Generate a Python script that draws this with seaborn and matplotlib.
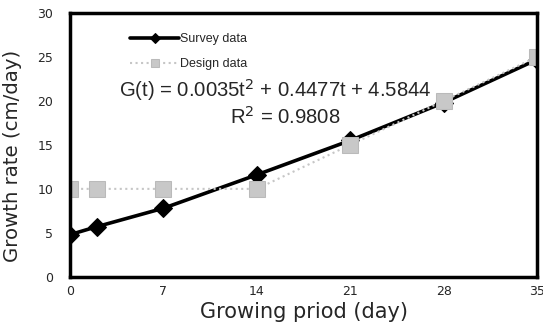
import pandas as pd
import numpy as np
import matplotlib.pyplot as plt
import seaborn as sns

days = [0, 2, 7, 14, 21, 28, 35]
survey_rate = [4.8, 5.7, 7.8, 11.6, 15.5, 19.8, 24.7]
design_rate = [10, 10, 10, 10, 15, 20, 25]
x_ticks = [0, 7, 14, 21, 28, 35]
y_ticks = [0, 5, 10, 15, 20, 25, 30]

survey = pd.DataFrame({'day': days, 'rate': survey_rate})
design = pd.DataFrame({'day': days, 'rate': design_rate})

sns.set_style('white')
plt.rcParams['font.family'] = ['Liberation Sans', 'DejaVu Sans']

fig = plt.figure(figsize=(5.43, 3.30), dpi=100)
ax = fig.add_axes([0.129, 0.161, 0.860, 0.800])

sns.lineplot(data=survey, x='day', y='rate', ax=ax, color='black', linewidth=2.6,
             marker='D', markersize=9, markerfacecolor='black', markeredgecolor='black',
             label='Survey data', zorder=2)
sns.lineplot(data=design, x='day', y='rate', ax=ax, color='#c6c6c6', linestyle=':',
             linewidth=1.5, marker='s', markersize=11.5, markerfacecolor='#c8c8c8',
             markeredgecolor='#bababa', label='Design data', zorder=3)

ax.set_xlim(0, 35)
ax.set_ylim(0, 30)
ax.set_xticks(x_ticks)
ax.set_yticks(y_ticks)
ax.tick_params(length=0, labelsize=9)
ax.tick_params(axis='y', pad=12)
ax.tick_params(axis='x', pad=6)
for lab in ax.get_xticklabels() + ax.get_yticklabels():
    lab.set_family('DejaVu Sans')
    lab.set_clip_on(False)
for s in ax.spines.values():
    s.set_linewidth(2.5)
    s.set_color('black')
    s.set_visible(True)
    s.set_zorder(4)

ax.set_xlabel('Growing priod (day)', fontsize=15, labelpad=3, family='DejaVu Sans')
ax.set_ylabel('Growth rate (cm/day)', fontsize=14.2, family='DejaVu Sans')
ax.yaxis.set_label_coords(-0.103, 0.458)

handles, labels = ax.get_legend_handles_labels()
ax.legend(handles, labels, loc='upper left', bbox_to_anchor=(0.105, 0.965),
          frameon=False, fontsize=9, handlelength=3.9, handletextpad=0.1,
          labelspacing=1.04, markerscale=0.55)

ax.text(0.439, 0.708, r'G(t) = 0.0035t$^2$ + 0.4477t + 4.5844', transform=ax.transAxes,
        ha='center', va='center', fontsize=14.6)
ax.text(0.46, 0.606, r'R$^2$ = 0.9808', transform=ax.transAxes,
        ha='center', va='center', fontsize=14.6)

fig.savefig('out.png', dpi=100)
